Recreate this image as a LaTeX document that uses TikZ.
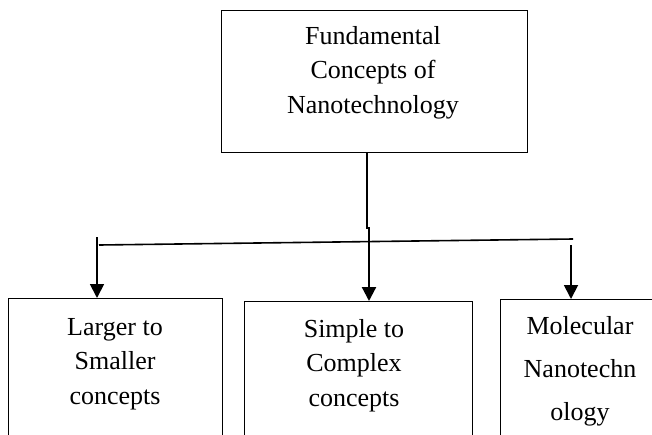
\documentclass[tikz,border=0pt]{standalone}
\usepackage{fontspec}
\setmainfont{Liberation Serif}
\usetikzlibrary{arrows.meta}
\tikzset{
	box/.style={draw, line width=1.3pt, inner sep=0pt},
	txt/.style={align=center, inner sep=0pt, font=\fontsize{26}{34.5}\selectfont},
	arr/.style={line width=1.8pt, -{Triangle[width=14pt,length=14pt]}}
}
\begin{document}
\begin{tikzpicture}[x=1pt,y=-1pt]
	\useasboundingbox (0,0) rectangle (652,434);
		%boxes
			\node[box, minimum width=306, minimum height=142, anchor=north west] (fund) at (221,10) {};
			\node[box, minimum width=214, minimum height=170, anchor=north west] (large) at (8,298) {};
			\node[box, minimum width=228, minimum height=170, anchor=north west] (simple) at (244,301) {};
			\node[box, minimum width=170, minimum height=170, anchor=north west] (mol) at (500,299) {};
		%texts (base = last line)
			\node[txt, anchor=base] (fundtxt) at (373,113) {Fundamental\\Concepts of\\Nanotechnology};
			\node[txt, anchor=base] (largetxt) at (115,404) {Larger to\\Smaller\\concepts};
			\node[txt, anchor=base] (simpletxt) at (354,406) {Simple to\\Complex\\concepts};
			\node[txt, anchor=base, font=\fontsize{26}{43}\selectfont] (moltxt) at (580,420) {Molecular\\Nanotechn\\ology};
		%connectors
			\coordinate (jog) at (367,228);
			\coordinate (hl) at (99,245);
			\coordinate (hr) at (573,239);
			\coordinate (la) at (97,237);
			\coordinate (ra) at (571,245);
			\draw[arr, line width=2.2pt] (fund.south -| jog) -- (jog) -- ([xshift=2pt]jog) -- ([xshift=2pt]jog |- simple.north);
			\draw[line width=1.6pt] (hl) -- (hr);
			\draw[arr] (la) -- (la |- large.north);
			\draw[arr] (ra) -- (ra |- mol.north);
\end{tikzpicture}
\end{document}
